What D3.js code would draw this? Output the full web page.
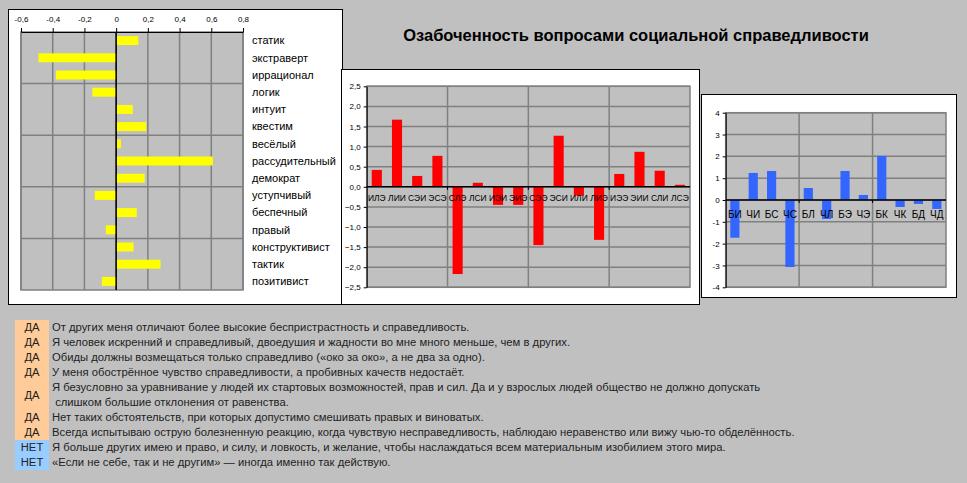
<!DOCTYPE html>
<html>
<head>
<meta charset="utf-8">
<script src="https://cdn.jsdelivr.net/npm/d3@7"></script>
<style>
  body { margin: 0; background: #c0c0c0; }
  svg { display: block; font-family: "Liberation Sans", Arial, sans-serif; }
</style>
</head>
<body>
<svg id="chart" width="967" height="483"></svg>
<script>
// left chart: traits
const traitNames = ["статик", "экстраверт", "иррационал", "логик", "интуит", "квестим", "весёлый",
  "рассудительный", "демократ", "уступчивый", "беспечный", "правый", "конструктивист", "тактик", "позитивист"];
const traitValues = [0.14, -0.49, -0.38, -0.15, 0.105, 0.19, 0.03, 0.61, 0.18, -0.135, 0.13, -0.065, 0.11, 0.28, -0.09];
const traitTicks = [-0.6, -0.4, -0.2, 0, 0.2, 0.4, 0.6, 0.8];

// middle chart: types
const typeNames = ["ИЛЭ", "ЛИИ", "СЭИ", "ЭСЭ", "СЛЭ", "ЛСИ", "ИЭИ", "ЭИЭ", "СЭЭ", "ЭСИ", "ИЛИ", "ЛИЭ", "ИЭЭ", "ЭИИ", "СЛИ", "ЛСЭ"];
const typeValues = [0.42, 1.67, 0.27, 0.77, -2.17, 0.10, -0.45, -0.45, -1.45, 1.27, -0.22, -1.32, 0.32, 0.87, 0.40, 0.05];
const typeTicks = [-2.5, -2, -1.5, -1, -0.5, 0, 0.5, 1, 1.5, 2, 2.5];

// right chart: functions
const funcNames = ["БИ", "ЧИ", "БС", "ЧС", "БЛ", "ЧЛ", "БЭ", "ЧЭ", "БК", "ЧК", "БД", "ЧД"];
const funcValues = [-1.73, 1.24, 1.33, -3.07, 0.55, -0.87, 1.33, 0.23, 2.02, -0.32, -0.18, -0.41];
const funcTicks = [-4, -3, -2, -1, 0, 1, 2, 3, 4];

// statements
const answers = ["ДА", "ДА", "ДА", "ДА", "ДА", "ДА", "ДА", "НЕТ", "НЕТ"];
const statements = [
  ["От других меня отличают более высокие беспристрастность и справедливость."],
  ["Я человек искренний и справедливый, двоедушия и жадности во мне много меньше, чем в других."],
  ["Обиды должны возмещаться только справедливо («око за око», а не два за одно)."],
  ["У меня обострённое чувство справедливости, а пробивных качеств недостаёт."],
  ["Я безусловно за уравнивание у людей их стартовых возможностей, прав и сил. Да и у взрослых людей общество не должно допускать",
   " слишком большие отклонения от равенства."],
  ["Нет таких обстоятельств, при которых допустимо смешивать правых и виноватых."],
  ["Всегда испытываю острую болезненную реакцию, когда чувствую несправедливость, наблюдаю неравенство или вижу чью-то обделённость."],
  ["Я больше других имею и право, и силу, и ловкость, и желание, чтобы наслаждаться всем материальным изобилием этого мира."],
  ["«Если не себе, так и не другим» — иногда именно так действую."]
];

const svg = d3.select("#chart");
const fmt1 = d => d3.format(".1f")(d).replace(".", ",");
const fmtG = d => String(d).replace(".", ",");

// title
svg.append("text")
  .attr("x", 636).attr("y", 41)
  .attr("text-anchor", "middle")
  .attr("font-size", 16.5).attr("font-weight", "bold")
  .attr("fill", "#000")
  .text("Озабоченность вопросами социальной справедливости");

// ---------- left panel ----------
function drawLeft() {
  const g = svg.append("g");
  g.append("rect").attr("x", 8.5).attr("y", 9.5).attr("width", 334).attr("height", 295)
    .attr("fill", "#fff").attr("stroke", "#000");

  const x = d3.scaleLinear().domain([-0.6, 0.8]).range([21, 243]);
  const y = d3.scaleBand().domain(traitNames).range([32, 290]);

  g.append("rect").attr("x", 21).attr("y", 32).attr("width", 222).attr("height", 258)
    .attr("fill", "#c0c0c0");

  g.selectAll(".vgrid").data(traitTicks).enter().append("line")
    .attr("x1", d => x(d)).attr("x2", d => x(d))
    .attr("y1", 32).attr("y2", 290)
    .attr("stroke", "#808080").attr("stroke-width", 1.5);

  g.selectAll(".hgrid").data(d3.range(3, traitNames.length, 3)).enter().append("line")
    .attr("x1", 21).attr("x2", 243)
    .attr("y1", d => y.range()[0] + d * y.step())
    .attr("y2", d => y.range()[0] + d * y.step())
    .attr("stroke", "#808080").attr("stroke-width", 1.5);

  g.append("rect").attr("x", 21).attr("y", 32).attr("width", 222).attr("height", 258)
    .attr("fill", "none").attr("stroke", "#808080").attr("stroke-width", 1.5);

  g.selectAll(".bar").data(traitValues).enter().append("rect")
    .attr("x", d => x(Math.min(0, d)))
    .attr("width", d => Math.abs(x(d) - x(0)))
    .attr("y", (d, i) => y(traitNames[i]) + y.step() * 0.24)
    .attr("height", y.step() * 0.52)
    .attr("fill", "#ffff00");

  // top axis
  const ax = g.append("g").attr("transform", "translate(0,32)")
    .call(d3.axisTop(x).tickValues(traitTicks).tickFormat(fmtG).tickSize(4).tickSizeOuter(0));
  ax.select(".domain").attr("stroke", "#000");
  ax.selectAll("text").attr("font-size", 8).attr("font-family", "Liberation Sans, Arial").attr("dy", "-3");

  // zero line
  g.append("line").attr("x1", x(0)).attr("x2", x(0)).attr("y1", 32).attr("y2", 290)
    .attr("stroke", "#000").attr("stroke-width", 1.5);

  g.selectAll(".lab").data(traitNames).enter().append("text")
    .attr("x", 252)
    .attr("y", d => y(d) + y.bandwidth() / 2)
    .attr("dy", "0.35em")
    .attr("font-size", 11).attr("fill", "#000")
    .text(d => d);
}

// ---------- vertical bar panels ----------
function drawColumns(opt) {
  const g = svg.append("g");
  g.append("rect").attr("x", opt.box[0] + 0.5).attr("y", opt.box[1] + 0.5)
    .attr("width", opt.box[2]).attr("height", opt.box[3])
    .attr("fill", "#fff").attr("stroke", "#000");

  const [l, t, r, b] = opt.plot;
  const x = d3.scaleBand().domain(opt.names).range([l, r]);
  const y = d3.scaleLinear().domain(opt.domain).range([b, t]);

  g.append("rect").attr("x", l).attr("y", t).attr("width", r - l).attr("height", b - t)
    .attr("fill", "#c0c0c0");

  g.selectAll(".hgrid").data(opt.ticks).enter().append("line")
    .attr("x1", l).attr("x2", r)
    .attr("y1", d => y(d)).attr("y2", d => y(d))
    .attr("stroke", "#808080").attr("stroke-width", 1.5);

  const groups = d3.range(opt.group, opt.names.length, opt.group);
  g.selectAll(".vgrid").data(groups).enter().append("line")
    .attr("x1", d => l + d * x.step()).attr("x2", d => l + d * x.step())
    .attr("y1", t).attr("y2", b)
    .attr("stroke", "#808080").attr("stroke-width", 1.5);

  g.append("rect").attr("x", l).attr("y", t).attr("width", r - l).attr("height", b - t)
    .attr("fill", "none").attr("stroke", "#808080").attr("stroke-width", 1.5);

  g.selectAll(".bar").data(opt.values).enter().append("rect")
    .attr("x", (d, i) => x(opt.names[i]) + x.step() * 0.25)
    .attr("width", x.step() * 0.5)
    .attr("y", d => y(Math.max(0, d)))
    .attr("height", d => Math.abs(y(d) - y(0)))
    .attr("fill", opt.color);

  const ay = g.append("g").attr("transform", `translate(${l},0)`)
    .call(d3.axisLeft(y).tickValues(opt.ticks).tickFormat(opt.format).tickSize(3).tickSizeOuter(0));
  ay.select(".domain").attr("stroke", "#000");
  ay.selectAll("text").attr("font-size", opt.tickFont).attr("font-family", "Liberation Sans, Arial");

  // zero axis with category group ticks
  g.append("line").attr("x1", l).attr("x2", r).attr("y1", y(0)).attr("y2", y(0))
    .attr("stroke", "#000").attr("stroke-width", 1.5);
  g.selectAll(".gtick").data(groups).enter().append("line")
    .attr("x1", d => l + d * x.step()).attr("x2", d => l + d * x.step())
    .attr("y1", y(0)).attr("y2", y(0) + 3)
    .attr("stroke", "#000");

  g.selectAll(".lab").data(opt.names).enter().append("text")
    .attr("x", d => x(d) + x.bandwidth() / 2)
    .attr("y", y(0) + opt.labelDy)
    .attr("text-anchor", "middle")
    .attr("font-size", opt.labelFont).attr("fill", "#000")
    .text(d => d);
}

drawLeft();

drawColumns({
  box: [341, 69, 358, 235],
  plot: [366.7, 86.3, 690, 287.3],
  names: typeNames, values: typeValues, ticks: typeTicks,
  domain: [-2.5, 2.5], group: 4, color: "#ff0000",
  format: fmt1, tickFont: 8, labelFont: 8.5, labelDy: 14
});

drawColumns({
  box: [701, 94, 255, 203],
  plot: [725.7, 112.7, 946, 287.3],
  names: funcNames, values: funcValues, ticks: funcTicks,
  domain: [-4, 4], group: 4, color: "#3366ff",
  format: d => String(d), tickFont: 8, labelFont: 10, labelDy: 18
});

// ---------- statements ----------
const rowH = 15;
let rowY = 320;
const tg = svg.append("g");
statements.forEach((lines, i) => {
  const h = rowH * lines.length;
  tg.append("rect").attr("x", 15).attr("y", rowY).attr("width", 34).attr("height", h)
    .attr("fill", answers[i] === "ДА" ? "#ffcc99" : "#99ccff");
  tg.append("text").attr("x", 32).attr("y", rowY + h / 2).attr("dy", "0.35em")
    .attr("text-anchor", "middle").attr("font-size", 11.25).attr("fill", "#222")
    .text(answers[i]);
  lines.forEach((line, j) => {
    tg.append("text").attr("x", 52).attr("y", rowY + rowH * j + rowH / 2).attr("dy", "0.35em")
      .attr("font-size", 11.25).attr("fill", "#222")
      .attr("xml:space", "preserve").style("white-space", "pre")
      .text(line);
  });
  rowY += h;
});
</script>
</body>
</html>
